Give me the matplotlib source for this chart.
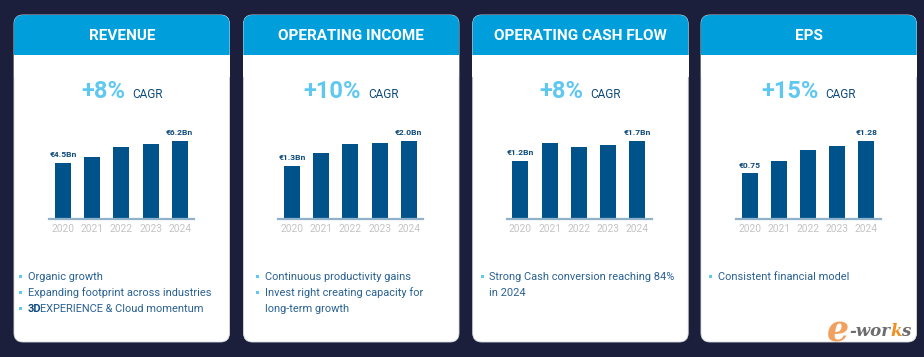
import matplotlib
matplotlib.use("Agg")
import matplotlib.pyplot as plt
from matplotlib.patches import FancyBboxPatch, Rectangle
from matplotlib.transforms import blended_transform_factory

# ---------------- data ----------------
years = ["2020", "2021", "2022", "2023", "2024"]
titles = ["REVENUE", "OPERATING INCOME", "OPERATING CASH FLOW", "EPS"]
cagr = ["+8%", "+10%", "+8%", "+15%"]
revenue = [4.46, 4.89, 5.68, 5.94, 6.2]
operating_income = [1.36, 1.68, 1.92, 1.94, 2.0]
operating_cash_flow = [1.27, 1.66, 1.56, 1.60, 1.7]
eps = [0.75, 0.95, 1.13, 1.20, 1.28]
first_labels = ["€4.5Bn", "€1.3Bn", "€1.2Bn", "€0.75"]
last_labels = ["€6.2Bn", "€2.0Bn", "€1.7Bn", "€1.28"]
bullets = [
    [["Organic growth"], ["Expanding footprint across industries"], ["3DEXPERIENCE & Cloud momentum"]],
    [["Continuous productivity gains"], ["Invest right creating capacity for", "long-term growth"]],
    [["Strong Cash conversion reaching 84%", "in 2024"]],
    [["Consistent financial model"]],
]
series = [revenue, operating_income, operating_cash_flow, eps]

# ---------------- style ----------------
BG = "#1c1f3b"
HEAD = "#009fdc"
BAR = "#00538a"
BASE = "#8fb1ca"
YEAR = "#c4c4c4"
CAGR_NUM = "#5fc8f1"
DARK = "#0f4a7c"
BULLET_TXT = "#2a6193"
FONT = "Roboto"

W, H = 924, 357
fig = plt.figure(figsize=(W / 100, H / 100), dpi=100, facecolor=BG)
ax = fig.add_axes([0, 0, 1, 1])
ax.set_xlim(0, W)
ax.set_ylim(H, 0)
ax.axis("off")
ax.set_facecolor(BG)

card_left = [14, 243.5, 472.7, 701]
card_w = 215.5
card_top, card_bot = 15, 342
head_bot = 55
base_y = 219
chart_h = 78.3
base_x0 = [49.3, 278.3, 506.7, 736]
base_w = 145
bullet_x = [20.7, 257.3, 482, 710.7]
text_x = [28, 265, 489, 718]
line_y0 = 276.7
line_dy = 16.2
BFS = 7.9

fig.canvas.draw()
renderer = fig.canvas.get_renderer()


def width_px(t):
    bb = t.get_window_extent(renderer=renderer)
    return bb.width


for p in range(4):
    x0 = card_left[p]
    cx = x0 + card_w / 2
    r = 9
    # card body
    ax.add_patch(FancyBboxPatch((x0 + r, card_top + r), card_w - 2 * r, card_bot - card_top - 2 * r,
                                boxstyle=f"round,pad={r}", fc="white", ec="#d8dde3", lw=0.6, zorder=1))
    # header
    ax.add_patch(FancyBboxPatch((x0 + r, card_top + r), card_w - 2 * r, head_bot - card_top,
                                boxstyle=f"round,pad={r}", fc=HEAD, ec="none", zorder=2))
    ax.add_patch(Rectangle((x0 - 0.3, head_bot), card_w + 0.6, 22, fc="white", ec="none", zorder=3))
    ax.text(cx, 35.5, titles[p], color="white", fontsize=11, fontweight="bold", family=FONT,
            ha="center", va="center", zorder=4)

    # CAGR
    t1 = ax.text(0, 98, cagr[p], color=CAGR_NUM, fontsize=17, fontweight="bold", family=FONT,
                 ha="left", va="baseline", zorder=4)
    t2 = ax.text(0, 97.5, "CAGR", color=DARK, fontsize=8.5, family=FONT,
                 ha="left", va="baseline", zorder=4)
    w1, w2 = width_px(t1), width_px(t2)
    gap = 7
    sx = cx - (w1 + gap + w2) / 2
    t1.set_x(sx)
    t2.set_x(sx + w1 + gap)

    # bar chart
    bax = fig.add_axes([base_x0[p] / W, (H - base_y) / H, base_w / W, chart_h / H])
    bax.set_xlim(-0.47, 4.5)
    bax.set_ylim(0, max(series[p]))
    bax.axis("off")
    idx = list(range(len(years)))
    bax.bar(idx, series[p], width=0.55, color=BAR, zorder=2)
    bax.axhline(0, color=BASE, lw=1.6, zorder=3, clip_on=False)
    tr = blended_transform_factory(bax.transData, bax.transAxes)
    for i, yr in enumerate(years):
        bax.text(i, -10.3 / chart_h, yr, transform=tr, ha="center", va="center",
                 color=YEAR, fontsize=7.3, family=FONT)
    bax.annotate(first_labels[p], (0, series[p][0]), xytext=(0, 5.6), textcoords="offset points",
                 ha="center", va="center", fontsize=6.1, fontweight="bold", color=DARK,
                 family=FONT, annotation_clip=False)
    bax.annotate(last_labels[p], (4, series[p][4]), xytext=(0, 5.6), textcoords="offset points",
                 ha="center", va="center", fontsize=6.1, fontweight="bold", color=DARK,
                 family=FONT, annotation_clip=False)

    # bullets
    k = 0
    for item in bullets[p]:
        for j, line in enumerate(item):
            y = line_y0 + line_dy * k
            if j == 0:
                ax.add_patch(Rectangle((bullet_x[p] - 1.5, y - 2.2), 3, 3, fc=CAGR_NUM, ec="none", zorder=4))
            if line.startswith("3D"):
                ta = ax.text(text_x[p], y, "3D", color=DARK, fontsize=BFS, fontweight="bold",
                             family=FONT, ha="left", va="center", zorder=4)
                ax.text(text_x[p] + width_px(ta) - 1.5, y, line[2:], color=BULLET_TXT, fontsize=BFS,
                        family=FONT, ha="left", va="center", zorder=4)
            else:
                ax.text(text_x[p], y, line, color=BULLET_TXT, fontsize=BFS, family=FONT,
                        ha="left", va="center", zorder=4)
            k += 1

# watermark
WM_FONT = "DejaVu Serif"
we = ax.text(827, 341, "e", color="#f09040", fontsize=25, fontstyle="italic", fontweight="bold",
             family=WM_FONT, ha="left", va="baseline", zorder=6, alpha=0.85)
x = 827 + width_px(we) + 0.5
for part, col in [("-wor", "#6c6c6c"), ("k", "#f09020"), ("s", "#6c6c6c")]:
    t = ax.text(x, 336, part, color=col, fontsize=12, fontstyle="italic", fontweight="bold",
                family=WM_FONT, ha="left", va="baseline", zorder=6)
    x += width_px(t) - 0.5

fig.savefig("out.png", dpi=100, facecolor=BG)
